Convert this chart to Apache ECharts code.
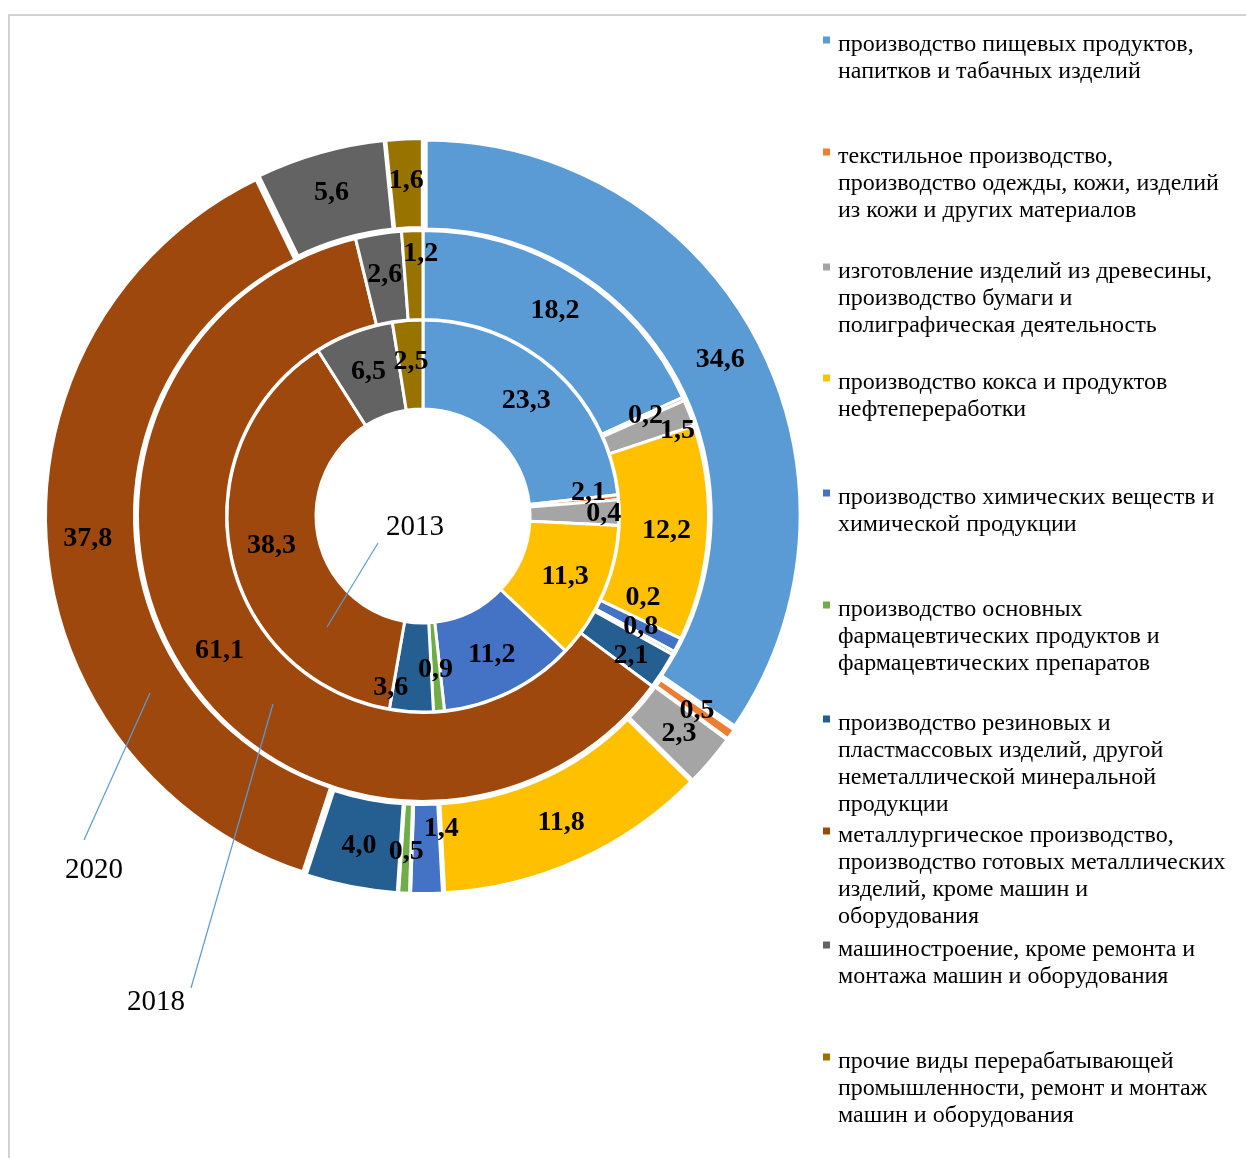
<!DOCTYPE html>
<html>
<head>
<meta charset="utf-8">
<script src="https://cdn.jsdelivr.net/npm/echarts@6/dist/echarts.min.js"></script>
<style>
html,body{margin:0;padding:0;background:#fff;}
#chart{width:1246px;height:1158px;}
</style>
</head>
<body>
<div id="chart"></div>
<script>
// ---- data ----
const categories = [
  'производство пищевых продуктов,\nнапитков и табачных изделий',
  'текстильное производство,\nпроизводство одежды, кожи, изделий\nиз кожи и других материалов',
  'изготовление изделий из древесины,\nпроизводство бумаги и\nполиграфическая деятельность',
  'производство кокса и продуктов\nнефтепереработки',
  'производство химических веществ и\nхимической продукции',
  'производство основных\nфармацевтических продуктов и\nфармацевтических препаратов',
  'производство резиновых и\nпластмассовых изделий, другой\nнеметаллической минеральной\nпродукции',
  'металлургическое производство,\nпроизводство готовых металлических\nизделий, кроме машин и\nоборудования',
  'машиностроение, кроме ремонта и\nмонтажа машин и оборудования',
  'прочие виды перерабатывающей\nпромышленности, ремонт и монтаж\nмашин и оборудования'
];
const values2013 = [23.3, 0.4, 2.1, 11.3, 11.2, 0.9, 3.6, 38.3, 6.5, 2.5];
const values2018 = [18.2, 0.2, 1.5, 12.2, 0.8, 0.2, 2.1, 61.1, 2.6, 1.2];
const values2020 = [34.6, 0.5, 2.3, 11.8, 1.4, 0.5, 4.0, 37.8, 5.6, 1.6];
const years = ['2013', '2018', '2020'];

// ---- styles / layout ----
const palette = ['#5B9BD5', '#ED7D31', '#A5A5A5', '#FFC000', '#4472C4', '#70AD47', '#255E91', '#9E480E', '#636363', '#997300'];
const FONT = "'Liberation Serif', 'Times New Roman', serif";
const CX = 423, CY = 516;
// first-line centres of legend entries (px); icon sits a little above
const legendLineCenters = [45, 157, 272, 383, 498, 610, 724, 836, 950, 1062];
const ICON_SHIFT = 5;
const LH = 27;
// label nudges (series index -> data index -> [dx, dy])
const labelNudge = {
  0: {1: [27, 13], 2: [11, -21], 6: [-23, 18]},
  1: {2: [27, 3], 5: [6, -35], 6: [3, 8], 9: [7, -18]},
  2: {4: [15, -23]}
};

const chart = echarts.init(document.getElementById('chart'), null, {renderer: 'canvas'});

function fmt(p) { return p.value.toFixed(1).replace('.', ','); }

function ring(idx, values, radius, border, explode) {
  return {
    type: 'pie',
    name: years[idx],
    center: [CX, CY],
    radius: radius,
    startAngle: 90,
    clockwise: true,
    avoidLabelOverlap: false,
    selectedMode: explode ? 'multiple' : false,
    selectedOffset: explode ? 3 : 0,
    emphasis: {disabled: true, scale: false},
    select: {itemStyle: {borderColor: '#fff', borderWidth: border}},
    itemStyle: {borderColor: '#fff', borderWidth: border},
    label: {
      show: true,
      position: 'inside',
      formatter: fmt,
      color: '#000',
      fontFamily: FONT,
      fontWeight: 'bold',
      fontSize: 28
    },
    labelLine: {show: false},
    labelLayout: function (params) {
      const m = labelNudge[idx];
      const o = m && m[params.dataIndex];
      return o ? {dx: o[0], dy: o[1]} : {};
    },
    data: values.map((v, i) => ({name: categories[i], value: v, selected: !!explode}))
  };
}

const legends = categories.map((name, i) => {
  const n = name.split('\n').length;
  const g = LH * (n - 1) + 2 * ICON_SHIFT;
  const c = legendLineCenters[i] - ICON_SHIFT;
  return {
    data: [name],
    orient: 'vertical',
    left: 823,
    top: c - (g + LH * n) / 2,
    padding: 0,
    icon: 'rect',
    itemWidth: 7,
    itemHeight: 7,
    itemStyle: {borderWidth: 0},
    selectedMode: false,
    formatter: function (nm) {
      return '{g|\u200b}\n' + nm.split('\n').map(s => '{t|' + s + '}').join('\n');
    },
    textStyle: {
      fontFamily: FONT,
      fontSize: 24,
      color: '#000',
      padding: [0, 0, 0, 3],
      rich: {
        g: {lineHeight: g, height: g, fontSize: 10},
        t: {fontFamily: FONT, fontSize: 24, lineHeight: LH, color: '#000'}
      }
    }
  };
});

const yearLabels = [
  {text: years[0], x: 386, y: 527, line: [378, 543, 327, 627]},
  {text: years[1], x: 127, y: 1002, line: [191, 988, 273, 704]},
  {text: years[2], x: 65, y: 870, line: [84, 840, 150, 693]}
];

const graphics = [
  {type: 'rect', shape: {x: 9, y: 15, width: 1260, height: 1170}, style: {fill: 'none', stroke: '#C4C4C4', lineWidth: 1.5}, z: -10, silent: true}
];
yearLabels.forEach(y => {
  graphics.push({type: 'line', shape: {x1: y.line[0], y1: y.line[1], x2: y.line[2], y2: y.line[3]}, style: {stroke: '#5B9BD5', lineWidth: 1.2}, z: 100, silent: true});
  graphics.push({type: 'text', x: y.x, y: y.y, style: {text: y.text, fontFamily: FONT, fontSize: 29, fill: '#000', verticalAlign: 'middle', align: 'left'}, z: 100, silent: true});
});

chart.setOption({
  animation: false,
  color: palette,
  backgroundColor: '#fff',
  legend: legends,
  graphic: graphics,
  series: [
    ring(0, values2013, [107, 196], 3, false),
    ring(1, values2018, [196.5, 285.5], 3, false),
    ring(2, values2020, [285, 375], 4, true)
  ]
});
</script>
</body>
</html>
